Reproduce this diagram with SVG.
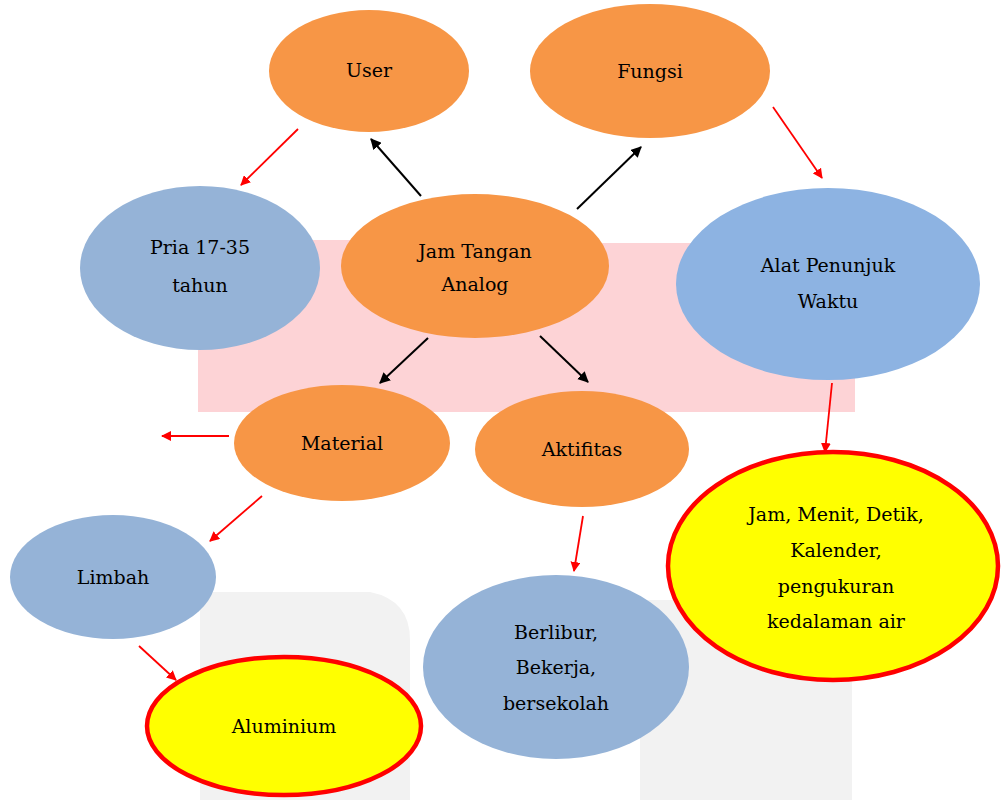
<svg xmlns="http://www.w3.org/2000/svg" width="1001" height="800" viewBox="0 0 1001 800">
<defs>
<style>
.o{fill:#F79646}
.b{fill:#95B3D7}
.b2{fill:#8DB3E2}
.y{fill:#FFFF00;stroke:#FF0000;stroke-width:4.5}
.t{font-family:"DejaVu Serif",serif;font-size:19px;fill:#000;text-anchor:middle}
.k{stroke:#000;stroke-width:2;fill:none}
.r{stroke:#FF0000;stroke-width:1.8;fill:none}
</style>
<marker id="ak" viewBox="0 0 10 10" refX="9" refY="5" markerWidth="11" markerHeight="11" markerUnits="userSpaceOnUse" orient="auto"><path d="M0,0 L10,5 L0,10 z" fill="#000"/></marker>
<marker id="ar" viewBox="0 0 10 10" refX="9" refY="5" markerWidth="10" markerHeight="10" markerUnits="userSpaceOnUse" orient="auto"><path d="M0,0 L10,5 L0,10 z" fill="#FF0000"/></marker>
</defs>
<rect width="1001" height="800" fill="#fff"/>
<g id="background">
<path d="M200,592 H370 Q410,600 410,640 V800 H200 Z" fill="#F2F2F2"/>
<path d="M640,600 H852 V800 H640 Z" fill="#F2F2F2"/>
<path d="M198,240 H527 V243 H855 V412 H198 Z" fill="#FDD3D6"/>
</g>
<g id="connectors">
<line class="k" x1="421" y1="196" x2="371" y2="139" marker-end="url(#ak)"/>
<line class="k" x1="577" y1="209" x2="641" y2="147" marker-end="url(#ak)"/>
<line class="k" x1="428" y1="338" x2="380" y2="383" marker-end="url(#ak)"/>
<line class="k" x1="540" y1="336" x2="588" y2="382" marker-end="url(#ak)"/>
<line class="r" x1="298" y1="129" x2="241" y2="185" marker-end="url(#ar)"/>
<line class="r" x1="773" y1="107" x2="822" y2="178" marker-end="url(#ar)"/>
<line class="r" x1="832" y1="383" x2="825" y2="452" marker-end="url(#ar)"/>
<line class="r" x1="229" y1="436" x2="162" y2="436" marker-end="url(#ar)"/>
<line class="r" x1="262" y1="496" x2="210" y2="541" marker-end="url(#ar)"/>
<line class="r" x1="139" y1="646" x2="176" y2="680" marker-end="url(#ar)"/>
<line class="r" x1="583" y1="516" x2="574" y2="571" marker-end="url(#ar)"/>
</g>
<g id="user"><ellipse class="o" cx="369" cy="71" rx="100" ry="61"/><text class="t" x="369" y="77">User</text></g>
<g id="fungsi"><ellipse class="o" cx="650" cy="71" rx="120" ry="67"/><text class="t" x="650" y="78">Fungsi</text></g>
<g id="pria"><ellipse class="b" cx="200" cy="268" rx="120" ry="82"/><text class="t" x="200" y="254">Pria 17-35</text><text class="t" x="200" y="292">tahun</text></g>
<g id="jam-tangan"><ellipse class="o" cx="475" cy="266" rx="134" ry="72"/><text class="t" x="475" y="258">Jam Tangan</text><text class="t" x="475" y="291">Analog</text></g>
<g id="alat"><ellipse class="b2" cx="828" cy="284" rx="152" ry="96"/><text class="t" x="828" y="272">Alat Penunjuk</text><text class="t" x="828" y="308">Waktu</text></g>
<g id="material"><ellipse class="o" cx="342" cy="443" rx="108" ry="58"/><text class="t" x="342" y="450">Material</text></g>
<g id="aktifitas"><ellipse class="o" cx="582" cy="449" rx="107" ry="58"/><text class="t" x="582" y="456">Aktifitas</text></g>
<g id="limbah"><ellipse class="b" cx="113" cy="577" rx="103" ry="62"/><text class="t" x="113" y="584">Limbah</text></g>
<g id="aluminium"><ellipse class="y" cx="284" cy="726" rx="137" ry="69"/><text class="t" x="284" y="733">Aluminium</text></g>
<g id="berlibur"><ellipse class="b" cx="556" cy="667" rx="133" ry="92"/><text class="t" x="556" y="639">Berlibur,</text><text class="t" x="556" y="674">Bekerja,</text><text class="t" x="556" y="710">bersekolah</text></g>
<g id="jam-menit"><ellipse class="y" cx="833" cy="566" rx="165" ry="114"/><text class="t" x="836" y="521">Jam, Menit, Detik,</text><text class="t" x="836" y="557">Kalender,</text><text class="t" x="836" y="593">pengukuran</text><text class="t" x="836" y="628">kedalaman air</text></g>
</svg>
